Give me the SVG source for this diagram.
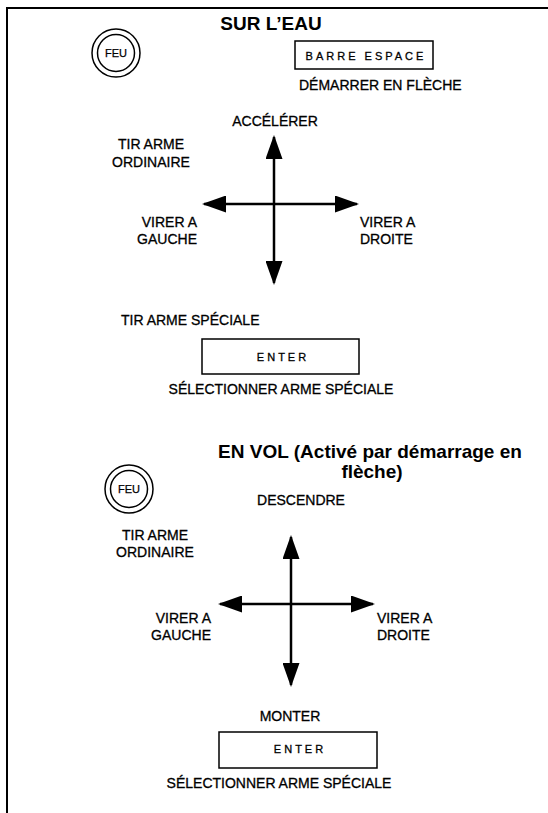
<svg xmlns="http://www.w3.org/2000/svg" width="548" height="813" viewBox="0 0 548 813">
<style>
.lbl{font-family:"Liberation Sans",Arial,sans-serif;font-size:14px;fill:#000;stroke:#000;stroke-width:0.3}
.ttl{font-family:"Liberation Sans",Arial,sans-serif;font-size:19px;font-weight:bold;fill:#000}
.key{font-family:"Liberation Sans",Arial,sans-serif;font-size:11px;fill:#000;stroke:#000;stroke-width:0.3;letter-spacing:3px}
.feu{font-family:"Liberation Sans",Arial,sans-serif;font-size:11px;fill:#000;stroke:#000;stroke-width:0.25}
.box{fill:#fff;stroke:#000;stroke-width:1.5}
.ring{fill:none;stroke:#000;stroke-width:1.5}
.arr{stroke:#000;stroke-width:2.5;fill:none;marker-start:url(#head);marker-end:url(#head)}
.frame{stroke:#000;stroke-width:2;fill:none}
</style>
<defs>
<marker id="head" markerUnits="userSpaceOnUse" markerWidth="24" markerHeight="17" viewBox="0 0 24 17" refX="22" refY="8.5" orient="auto-start-reverse">
<path d="M0,0 L24,8.5 L0,17 Z" fill="#000"/>
</marker>
</defs>
<rect width="548" height="813" fill="#fff"/>
<path class="frame" d="M7,813 L7,8 L548,8"/>

<g id="title-eau"><text class="ttl" x="271" y="30" text-anchor="middle">SUR L’EAU</text></g>
<g id="feu1"><circle class="ring" cx="116" cy="53" r="24"/><circle class="ring" cx="116" cy="53" r="18.5"/><text class="feu" x="116" y="57" text-anchor="middle">FEU</text></g>
<g id="barre"><rect class="box" x="295" y="41" width="138" height="28"/><text class="key" x="366" y="60" text-anchor="middle">BARRE ESPACE</text><text class="lbl" x="299" y="90">DÉMARRER EN FLÈCHE</text></g>
<g id="accel"><text class="lbl" x="275" y="126" text-anchor="middle">ACCÉLÉRER</text></g>
<g id="tir1"><text class="lbl" x="151" y="149" text-anchor="middle">TIR ARME</text><text class="lbl" x="151" y="167" text-anchor="middle">ORDINAIRE</text></g>
<g id="gauche1"><text class="lbl" x="197" y="227" text-anchor="end">VIRER A</text><text class="lbl" x="197" y="244" text-anchor="end">GAUCHE</text></g>
<g id="droite1"><text class="lbl" x="360" y="227">VIRER A</text><text class="lbl" x="360" y="244">DROITE</text></g>
<g id="tirspec"><text class="lbl" x="121" y="325">TIR ARME SPÉCIALE</text></g>
<g id="enter1"><rect class="box" x="202" y="339" width="157" height="35"/><text class="key" x="283" y="361" text-anchor="middle">ENTER</text><text class="lbl" x="281" y="394" text-anchor="middle">SÉLECTIONNER ARME SPÉCIALE</text></g>

<g id="title-vol"><text class="ttl" x="370" y="458" text-anchor="middle">EN VOL (Activé par démarrage en</text><text class="ttl" x="372" y="478" text-anchor="middle">flèche)</text></g>
<g id="feu2"><circle class="ring" cx="129" cy="489" r="24"/><circle class="ring" cx="129" cy="489" r="18.5"/><text class="feu" x="129" y="493" text-anchor="middle">FEU</text></g>
<g id="desc"><text class="lbl" x="301" y="505" text-anchor="middle">DESCENDRE</text></g>
<g id="tir2"><text class="lbl" x="155" y="540" text-anchor="middle">TIR ARME</text><text class="lbl" x="155" y="557" text-anchor="middle">ORDINAIRE</text></g>
<g id="gauche2"><text class="lbl" x="211" y="623" text-anchor="end">VIRER A</text><text class="lbl" x="211" y="640" text-anchor="end">GAUCHE</text></g>
<g id="droite2"><text class="lbl" x="377" y="623">VIRER A</text><text class="lbl" x="377" y="640">DROITE</text></g>
<g id="monter"><text class="lbl" x="290" y="721" text-anchor="middle">MONTER</text></g>
<g id="enter2"><rect class="box" x="219" y="732" width="158" height="36"/><text class="key" x="300" y="753" text-anchor="middle">ENTER</text><text class="lbl" x="279" y="788" text-anchor="middle">SÉLECTIONNER ARME SPÉCIALE</text></g>

<g id="connectors">
<line class="arr" x1="274" y1="137" x2="274" y2="283"/>
<line class="arr" x1="204" y1="204" x2="357" y2="204"/>
<line class="arr" x1="291" y1="537" x2="291" y2="685"/>
<line class="arr" x1="220" y1="604" x2="373" y2="604"/>
</g>
</svg>
